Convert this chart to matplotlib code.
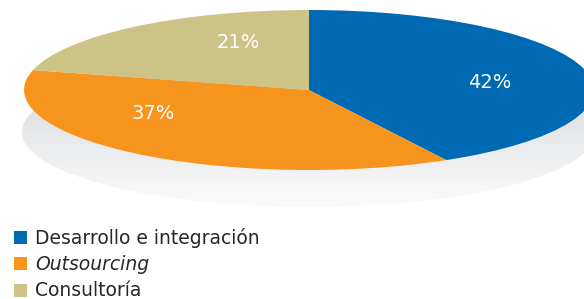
import numpy as np
import matplotlib.pyplot as plt
from matplotlib.patches import Ellipse, Rectangle

plt.switch_backend('agg')

# data
labels = ["Desarrollo e integración", "Outsourcing", "Consultoría"]
shares = [42, 37, 21]
colors = ["#0069b4", "#f7941e", "#cdc387"]
label_styles = ["normal", "italic", "normal"]
# label anchor points inside the flattened pie (axes units, -1..1)
pct_pos = [(0.635, 0.09), (-0.547, -0.29), (-0.249, 0.60)]

W, H = 584, 299
fig = plt.figure(figsize=(W / 100, H / 100), dpi=100)

# shadow under the pie: grey ellipse fading to white
bg = fig.add_axes([0, 0, 1, 1])
bg.set_xlim(0, W)
bg.set_ylim(H, 0)
bg.axis('off')
shadow = Ellipse((309, 132), 2 * 287, 2 * 75, transform=bg.transData,
                 facecolor='none', edgecolor='none')
bg.add_patch(shadow)
grad = np.linspace(0, 1, 256).reshape(-1, 1)
top = np.array([0.81, 0.82, 0.835])
bot = np.array([0.985, 0.985, 0.985])
img = top + (bot - top) * grad[..., None] ** 0.9
img = img.reshape(256, 1, 3)
im = bg.imshow(img, extent=(22, 596, 207, 57), aspect='auto', interpolation='bilinear')
im.set_clip_path(shadow)

# flattened pie
ax = fig.add_axes([24 / W, 1 - 170 / H, 570 / W, 160 / H])
wedges, _ = ax.pie(shares, colors=colors, startangle=90, counterclock=False,
                   wedgeprops=dict(linewidth=0))
ax.set_aspect('auto')
ax.set_xlim(-1, 1)
ax.set_ylim(-1, 1)
ax.axis('off')
for s, (x, y) in zip(shares, pct_pos):
    ax.text(x, y, f"{s}%", color='white', fontsize=14, ha='center', va='center',
            family='DejaVu Sans')

# legend
for i, (lab, col, st) in enumerate(zip(labels, colors, label_styles)):
    base = 243.5 + i * 26.5
    fig.patches.append(Rectangle((14 / W, 1 - base / H), 13 / W, 13 / H,
                                 transform=fig.transFigure, facecolor=col,
                                 edgecolor='none'))
    fig.text(35 / W, 1 - base / H, lab, fontsize=13.5, style=st, color='#2a2627',
             family='DejaVu Sans', ha='left', va='baseline')

fig.savefig("out.png", dpi=100)
